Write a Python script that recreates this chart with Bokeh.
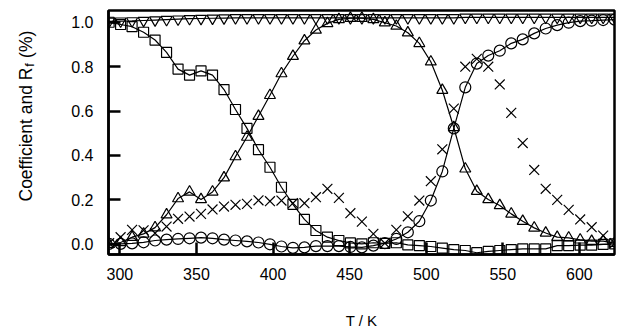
import math
from bokeh.plotting import figure
from bokeh.layouts import row
from bokeh.models import Range1d, FixedTicker, PrintfTickFormatter
from bokeh.core.properties import value
from bokeh.embed import file_html
from bokeh.resources import INLINE

# ---------------- data ----------------
T = [293.0, 300.5, 308.0, 315.5, 323.0, 330.5, 338.0, 345.5, 353.0, 360.5,
     368.0, 375.5, 383.0, 390.5, 398.0, 405.5, 413.0, 420.5, 428.0, 435.5,
     443.0, 450.5, 458.0, 465.5, 473.0, 480.5, 488.0, 495.5, 503.0, 510.5,
     518.0, 525.5, 533.0, 540.5, 548.0, 555.5, 563.0, 570.5, 578.0, 585.5,
     593.0, 600.5, 608.0, 615.5, 623.0]

squares = [1.000, 0.990, 0.980, 0.955, 0.920, 0.864, 0.789, 0.762, 0.781, 0.762,
           0.697, 0.607, 0.522, 0.426, 0.347, 0.257, 0.180, 0.112, 0.062, 0.032,
           0.017, 0.006, 0.002, 0.007, 0.004, 0.007, -0.003, -0.006, -0.010, -0.017,
           -0.024, -0.028, -0.038, -0.032, -0.028, -0.024, -0.021, -0.021, -0.021, -0.006,
           -0.006, -0.004, -0.004, 0.000, 0.002]

triangles = [0.000, 0.008, 0.032, 0.047, 0.075, 0.133, 0.206, 0.236, 0.202, 0.236,
             0.300, 0.395, 0.483, 0.577, 0.671, 0.769, 0.847, 0.917, 0.965, 0.995,
             1.013, 1.018, 1.018, 1.013, 0.998, 0.983, 0.953, 0.905, 0.822, 0.694,
             0.526, 0.340, 0.239, 0.202, 0.175, 0.137, 0.104, 0.074, 0.051, 0.032,
             0.029, 0.020, 0.014, 0.014, 0.005]

circles = [0.002, 0.002, 0.004, 0.009, 0.017, 0.021, 0.024, 0.027, 0.030, 0.027,
           0.021, 0.017, 0.013, 0.008, 0.000, -0.010, -0.016, -0.014, -0.008, -0.008,
           -0.008, -0.012, -0.014, -0.006, 0.005, 0.024, 0.054, 0.104, 0.197, 0.328,
           0.522, 0.707, 0.814, 0.850, 0.872, 0.905, 0.923, 0.950, 0.972, 0.987,
           0.998, 1.005, 1.007, 1.010, 1.012]

inverted = [1.004, 1.005, 1.006, 1.008, 1.010, 1.012, 1.014, 1.016, 1.017, 1.018,
            1.019, 1.020, 1.020, 1.020, 1.020, 1.020, 1.020, 1.020, 1.020, 1.020,
            1.020, 1.020, 1.020, 1.020, 1.020, 1.020, 1.020, 1.020, 1.020, 1.020,
            1.020, 1.022, 1.022, 1.022, 1.022, 1.022, 1.022, 1.022, 1.022, 1.022,
            1.022, 1.022, 1.022, 1.022, 1.022]

rf = [0.005, 0.032, 0.065, 0.063, 0.050, 0.080, 0.115, 0.125, 0.137, 0.157,
      0.170, 0.178, 0.182, 0.198, 0.194, 0.197, 0.185, 0.185, 0.212, 0.250,
      0.209, 0.140, 0.102, 0.047, 0.005, 0.065, 0.126, 0.197, 0.284, 0.428,
      0.611, 0.800, 0.835, 0.800, 0.720, 0.592, 0.456, 0.335, 0.250, 0.200,
      0.155, 0.112, 0.077, 0.039, 0.005]

x_ticks = [300, 350, 400, 450, 500, 550, 600]
y_ticks = [0.0, 0.2, 0.4, 0.6, 0.8, 1.0]

x_title = "T / K"
y_title_main = "Coefficient and R"
y_title_sub = "f"
y_title_end = "(%)"

# ---------------- layout ----------------
X0, X1 = 292.6, 622.9
Y0, Y1 = -0.046, 1.053
TOTAL_W, H = 619, 331
WL = 40                      # narrow panel holding the rotated y title
FL, FT, FW, FH = 108, 10, 506, 244   # frame position in page pixels
FONT = "Liberation Sans"

W = TOTAL_W - WL
p = figure(width=W, height=H, x_range=Range1d(X0, X1), y_range=Range1d(Y0, Y1),
           output_backend="svg", toolbar_location=None,
           min_border_left=FL - WL, min_border_right=W - (FL - WL) - FW,
           min_border_top=FT, min_border_bottom=H - FT - FH)

p.xgrid.visible = False
p.ygrid.visible = False
p.outline_line_color = "black"
p.outline_line_width = 2.5
p.outline_line_alpha = 1.0

p.xaxis.ticker = FixedTicker(ticks=x_ticks)
p.yaxis.ticker = FixedTicker(ticks=y_ticks)
p.yaxis.formatter = PrintfTickFormatter(format="%.1f")
for ax in (p.xaxis[0], p.yaxis[0]):
    ax.major_tick_in = 12
    ax.major_tick_out = 0
    ax.minor_tick_line_color = None
    ax.major_tick_line_width = 2.5
    ax.major_tick_line_color = "black"
    ax.axis_line_width = 2.5
    ax.axis_line_color = "black"
    ax.major_label_text_font = FONT
    ax.major_label_text_font_size = "16px"
    ax.major_label_text_color = "black"
p.xaxis.major_label_standoff = 13
p.yaxis.major_label_standoff = 15

p.xaxis.axis_label = x_title
p.xaxis.axis_label_text_font = FONT
p.xaxis.axis_label_text_font_size = "15px"
p.xaxis.axis_label_text_font_style = "normal"
p.xaxis.axis_label_text_color = "black"
p.xaxis.axis_label_standoff = 29

# ---------------- series ----------------
LW = 1.2
p.line(T, squares, line_color="black", line_width=LW)
p.line(T, triangles, line_color="black", line_width=LW)
p.line(T, circles, line_color="black", line_width=LW)
p.line(T, inverted, line_color="black", line_width=LW)

p.scatter(T, squares, marker="square", size=10, fill_color=None, line_color="black", line_width=LW)
p.scatter(T, triangles, marker="triangle", size=11, fill_color=None, line_color="black", line_width=LW)
p.scatter(T, circles, marker="circle", size=11, fill_color=None, line_color="black", line_width=LW)
p.scatter(T, inverted, marker="inverted_triangle", size=11, fill_color=None, line_color="black", line_width=LW)
p.scatter(T, rf, marker="x", size=14, line_color="black", line_width=1.2)

# ---------------- rotated y title in a narrow side panel ----------------
# the panel's frame matches the main frame vertically (page y 10..254);
# its y data unit is minus the page y, so texts can be placed in page pixels
left = figure(width=WL, height=H, x_range=Range1d(0, WL), y_range=Range1d(-(FT + FH), -FT),
              output_backend="svg", toolbar_location=None,
              x_axis_type=None, y_axis_type=None,
              min_border_left=0, min_border_right=0,
              min_border_top=FT, min_border_bottom=H - FT - FH)
left.outline_line_color = None
left.xgrid.visible = False
left.ygrid.visible = False

FS = 17.5
FS2 = 12.5
start_py = 201          # page y where the title starts (it reads upward)
base_x = 25             # page x of the baseline
w1 = 7.67 * FS
w2 = 0.278 * FS2 + 1
w_space = 0.278 * FS
left.text(x=[base_x], y=[-start_py], text=[y_title_main], angle=math.pi / 2,
          text_align="left", text_baseline="alphabetic",
          text_font=value(FONT), text_font_size=value(f"{FS}px"), text_color="black")
left.text(x=[base_x + 4], y=[-(start_py - w1 - 0.5)], text=[y_title_sub], angle=math.pi / 2,
          text_align="left", text_baseline="alphabetic",
          text_font=value(FONT), text_font_size=value(f"{FS2}px"), text_color="black")
left.text(x=[base_x], y=[-(start_py - w1 - w2 - w_space)], text=[y_title_end], angle=math.pi / 2,
          text_align="left", text_baseline="alphabetic",
          text_font=value(FONT), text_font_size=value(f"{FS}px"), text_color="black")

layout = row(left, p)
open("out.html", "w").write(file_html(layout, INLINE))
